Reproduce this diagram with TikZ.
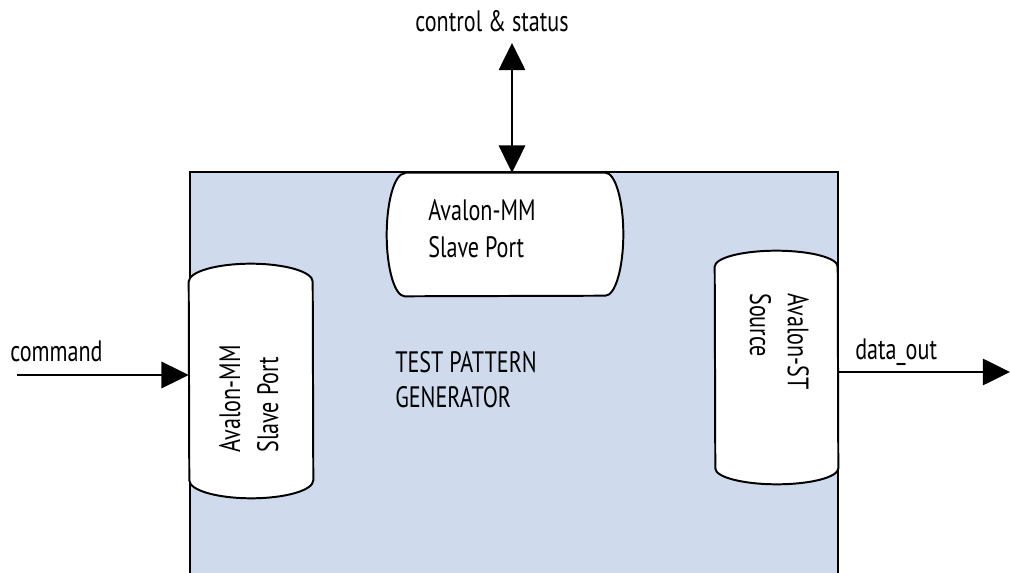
\documentclass[tikz,border=0pt]{standalone}
\usepackage{fontspec}
\setmainfont[FakeStretch=0.75]{PT Sans}
\usepackage{tikz}
\usepackage{xcolor}
\usetikzlibrary{arrows.meta,calc}

\definecolor{tpgblue}{RGB}{207,218,237}

\begin{document}
\begin{tikzpicture}[
    x=0.025cm, y=0.025cm,
    font=\fontsize{21}{27}\selectfont,
    >={Triangle[length=0.68cm, width=0.66cm]},
    frame/.style={draw, line width=1.4pt, fill=tpgblue},
    port/.style={draw, line width=1.4pt, fill=white},
    portarea/.style={inner sep=0pt, minimum width=#1},
    lbl/.style={inner sep=0pt, align=left},
    arrow/.style={->, line width=1.4pt}
]
    \useasboundingbox (0,0) rectangle (1011,572);

    \begin{scope}
        \clip (0,0) rectangle (1011,572);
        \draw[frame] (190,-10) rectangle (838,400);
    \end{scope}

    \node[portarea=3.1cm, minimum height=4.95cm] (mmleft) at (251,191) {};
    \node[portarea=3.075cm, minimum height=5.025cm] (stsrc) at (776.5,204.5) {};
    \node[portarea=5cm, minimum height=3.075cm] (mmtop) at (505,337.5) {};

    \draw[port] (mmleft.north west) arc[start angle=180, end angle=0, x radius=62, y radius=18]
        -- (mmleft.south east) arc[start angle=0, end angle=-180, x radius=62, y radius=18] -- cycle;
    \draw[port] (stsrc.north west) arc[start angle=180, end angle=0, x radius=61.5, y radius=16]
        -- (stsrc.south east) arc[start angle=0, end angle=-180, x radius=61.5, y radius=16] -- cycle;
    \draw[port] (mmtop.north west) -- (mmtop.north east)
        arc[start angle=90, end angle=-90, x radius=18, y radius=61.5]
        -- (mmtop.south west) arc[start angle=270, end angle=90, x radius=18, y radius=61.5] -- cycle;

    \node[lbl, anchor=base west] (mmtoptxt) at (428,314) {Avalon-MM\\Slave Port};
    \node[lbl, anchor=base west, rotate=90] (mmlefttxt) at (278,119) {Avalon-MM\\Slave Port};
    \node[lbl, anchor=base west, rotate=-90] (stsrctxt) at (750,279) {Avalon-ST\\Source};
    \node[lbl, anchor=base west, font=\fontsize{21}{25}\selectfont] (tpgtxt) at (395,164) {TEST PATTERN\\GENERATOR};

    \coordinate (ctlend) at (512,529);
    \coordinate (cmdin) at (17,197);
    \coordinate (dataend) at (1010,200);

    \draw[arrow, <->] (ctlend) -- (ctlend |- mmtop.north);
    \draw[arrow] (cmdin) -- (cmdin -| mmleft.west);
    \draw[arrow] (dataend -| stsrc.east) -- (dataend);

    \node[lbl, anchor=base] (ctllbl) at (492,540) {control \& status};
    \node[lbl, anchor=base west] (cmdlbl) at (10,210) {command};
    \node[lbl, anchor=base west] (datalbl) at (855,212) {data\_out};
\end{tikzpicture}
\end{document}
